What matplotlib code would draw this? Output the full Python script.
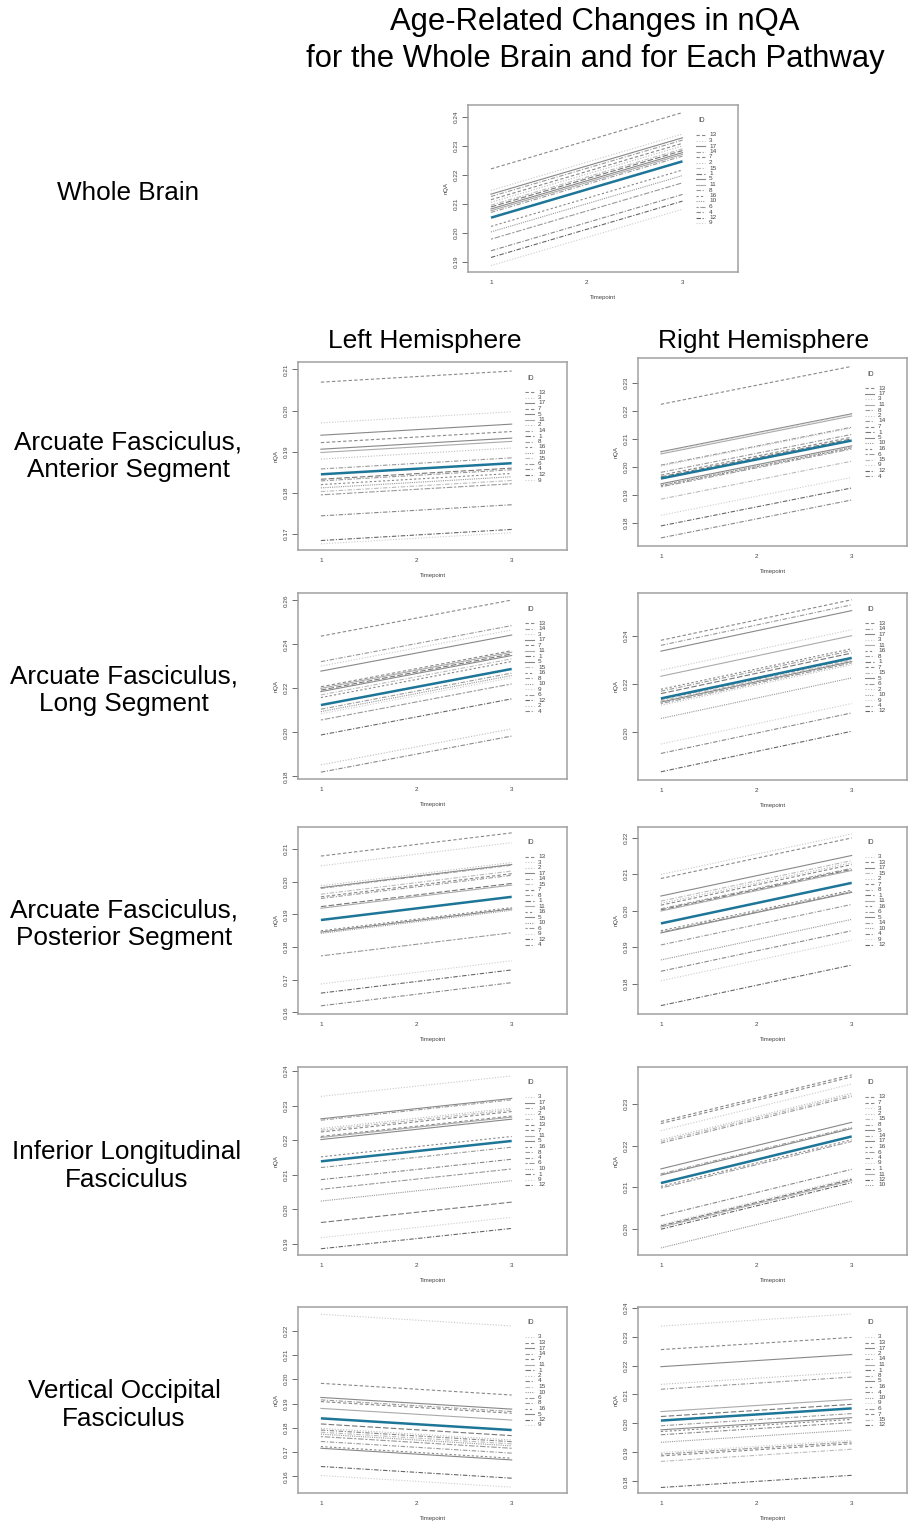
import matplotlib
matplotlib.use('Agg')
import matplotlib.pyplot as plt
from matplotlib.ticker import MultipleLocator

plt.rcParams['font.family'] = ['Liberation Sans', 'DejaVu Sans']

W, H = 908, 1531

timepoints = [1, 3]

# each panel: subject IDs in legend order (sorted by value at timepoint 3),
# fitted nQA at timepoint 1 and 3, and the group mean
wb_ids = [13, 3, 17, 14, 7, 2, 15, 1, 5, 11, 8, 16, 10, 6, 4, 12, 9]
wb_t1 = [0.2221, 0.2147, 0.2134, 0.2126, 0.2115, 0.2106, 0.2096, 0.2090, 0.2083, 0.2077, 0.2071, 0.2023, 0.2004, 0.1979, 0.1939, 0.1916, 0.1888]
wb_t3 = [0.2415, 0.2341, 0.2328, 0.2320, 0.2309, 0.2300, 0.2290, 0.2284, 0.2277, 0.2271, 0.2265, 0.2217, 0.2198, 0.2173, 0.2133, 0.2110, 0.2082]
wb_mean = [0.2053, 0.2247]

afa_l_ids = [13, 3, 17, 7, 5, 11, 2, 14, 1, 8, 16, 10, 15, 6, 4, 12, 9]
afa_l_t1 = [0.2069, 0.1970, 0.1940, 0.1922, 0.1906, 0.1898, 0.1882, 0.1858, 0.1833, 0.1829, 0.1820, 0.1812, 0.1803, 0.1795, 0.1744, 0.1684, 0.1676]
afa_l_t3 = [0.2096, 0.1997, 0.1967, 0.1949, 0.1933, 0.1925, 0.1909, 0.1885, 0.1860, 0.1856, 0.1847, 0.1839, 0.1830, 0.1822, 0.1771, 0.1711, 0.1703]
afa_l_mean = [0.1845, 0.1872]

afa_r_ids = [13, 17, 3, 11, 8, 2, 14, 7, 1, 5, 10, 16, 6, 15, 9, 12, 4]
afa_r_t1 = [0.2224, 0.2054, 0.2051, 0.2046, 0.2006, 0.2003, 0.1980, 0.1970, 0.1964, 0.1939, 0.1934, 0.1932, 0.1928, 0.1884, 0.1826, 0.1788, 0.1745]
afa_r_t3 = [0.2360, 0.2190, 0.2187, 0.2182, 0.2142, 0.2139, 0.2116, 0.2106, 0.2100, 0.2075, 0.2070, 0.2068, 0.2064, 0.2020, 0.1962, 0.1924, 0.1881]
afa_r_mean = [0.1958, 0.2094]

afl_l_ids = [13, 14, 3, 17, 7, 11, 1, 5, 15, 16, 8, 10, 9, 6, 12, 2, 4]
afl_l_t1 = [0.2437, 0.2321, 0.2301, 0.2278, 0.2207, 0.2200, 0.2192, 0.2185, 0.2170, 0.2158, 0.2105, 0.2094, 0.2084, 0.2056, 0.1988, 0.1852, 0.1819]
afl_l_t3 = [0.2601, 0.2485, 0.2465, 0.2442, 0.2371, 0.2364, 0.2356, 0.2349, 0.2334, 0.2322, 0.2269, 0.2258, 0.2248, 0.2220, 0.2152, 0.2016, 0.1983]
afl_l_mean = [0.2124, 0.2288]

afl_r_ids = [13, 14, 17, 3, 11, 16, 8, 1, 7, 15, 5, 6, 2, 10, 9, 4, 12]
afl_r_t1 = [0.2382, 0.2361, 0.2337, 0.2258, 0.2233, 0.2179, 0.2171, 0.2161, 0.2137, 0.2131, 0.2126, 0.2120, 0.2113, 0.2058, 0.1952, 0.1913, 0.1837]
afl_r_t3 = [0.2550, 0.2529, 0.2505, 0.2426, 0.2401, 0.2347, 0.2339, 0.2329, 0.2305, 0.2299, 0.2294, 0.2288, 0.2281, 0.2226, 0.2120, 0.2081, 0.2005]
afl_r_mean = [0.2141, 0.2309]

afp_l_ids = [13, 3, 2, 17, 14, 15, 7, 8, 1, 11, 16, 5, 10, 6, 9, 12, 4]
afp_l_t1 = [0.2079, 0.2049, 0.1988, 0.1982, 0.1980, 0.1962, 0.1954, 0.1949, 0.1924, 0.1919, 0.1850, 0.1846, 0.1842, 0.1773, 0.1687, 0.1659, 0.1620]
afp_l_t3 = [0.2150, 0.2120, 0.2059, 0.2053, 0.2051, 0.2033, 0.2025, 0.2020, 0.1995, 0.1990, 0.1921, 0.1917, 0.1913, 0.1844, 0.1758, 0.1730, 0.1691]
afp_l_mean = [0.1883, 0.1954]

afp_r_ids = [3, 13, 17, 15, 2, 7, 8, 1, 11, 16, 6, 5, 14, 10, 4, 9, 12]
afp_r_t1 = [0.2099, 0.2088, 0.2040, 0.2026, 0.2020, 0.2015, 0.2005, 0.2002, 0.1999, 0.1945, 0.1941, 0.1939, 0.1906, 0.1865, 0.1834, 0.1808, 0.1740]
afp_r_t3 = [0.2210, 0.2199, 0.2151, 0.2137, 0.2131, 0.2126, 0.2116, 0.2113, 0.2110, 0.2056, 0.2052, 0.2050, 0.2017, 0.1976, 0.1945, 0.1919, 0.1851]
afp_r_mean = [0.1965, 0.2076]

ilf_l_ids = [3, 17, 14, 2, 15, 13, 7, 11, 5, 16, 8, 4, 6, 10, 1, 9, 12]
ilf_l_t1 = [0.2327, 0.2262, 0.2258, 0.2234, 0.2229, 0.2224, 0.2211, 0.2208, 0.2202, 0.2152, 0.2121, 0.2086, 0.2058, 0.2024, 0.1962, 0.1918, 0.1886]
ilf_l_t3 = [0.2386, 0.2321, 0.2317, 0.2293, 0.2288, 0.2283, 0.2270, 0.2267, 0.2261, 0.2211, 0.2180, 0.2145, 0.2117, 0.2083, 0.2021, 0.1977, 0.1945]
ilf_l_mean = [0.2139, 0.2198]

ilf_r_ids = [13, 7, 3, 2, 15, 8, 5, 14, 17, 16, 6, 4, 9, 1, 11, 12, 10]
ilf_r_t1 = [0.2258, 0.2253, 0.2236, 0.2214, 0.2210, 0.2206, 0.2144, 0.2132, 0.2129, 0.2102, 0.2098, 0.2031, 0.2010, 0.2007, 0.2004, 0.1999, 0.1954]
ilf_r_t3 = [0.2370, 0.2365, 0.2348, 0.2326, 0.2322, 0.2318, 0.2256, 0.2244, 0.2241, 0.2214, 0.2210, 0.2143, 0.2122, 0.2119, 0.2116, 0.2111, 0.2066]
ilf_r_mean = [0.2110, 0.2222]

vof_l_ids = [3, 13, 17, 14, 7, 11, 1, 2, 4, 15, 10, 6, 8, 16, 5, 12, 9]
vof_l_t1 = [0.2267, 0.1983, 0.1925, 0.1915, 0.1908, 0.1880, 0.1816, 0.1798, 0.1791, 0.1782, 0.1774, 0.1764, 0.1744, 0.1723, 0.1716, 0.1641, 0.1604]
vof_l_t3 = [0.2219, 0.1935, 0.1877, 0.1867, 0.1860, 0.1832, 0.1768, 0.1750, 0.1743, 0.1734, 0.1726, 0.1716, 0.1696, 0.1675, 0.1668, 0.1593, 0.1556]
vof_l_mean = [0.1839, 0.1791]

vof_r_ids = [3, 13, 17, 2, 14, 11, 1, 8, 5, 16, 4, 10, 9, 6, 7, 15, 12]
vof_r_t1 = [0.2336, 0.2255, 0.2196, 0.2135, 0.2118, 0.2041, 0.2024, 0.1992, 0.1978, 0.1972, 0.1961, 0.1935, 0.1900, 0.1894, 0.1888, 0.1869, 0.1779]
vof_r_t3 = [0.2378, 0.2297, 0.2238, 0.2177, 0.2160, 0.2083, 0.2066, 0.2034, 0.2020, 0.2014, 0.2003, 0.1977, 0.1942, 0.1936, 0.1930, 0.1911, 0.1821]
vof_r_mean = [0.2010, 0.2052]

# line style per subject (grey shades, R-like lty)
id_color = {1: '#777777', 2: '#bbbbbb', 3: '#c8c8c8', 4: '#888888', 5: '#888888',
            6: '#999999', 7: '#888888', 8: '#999999', 9: '#cccccc', 10: '#999999',
            11: '#aaaaaa', 12: '#666666', 13: '#888888', 14: '#999999', 15: '#bbbbbb',
            16: '#888888', 17: '#888888'}
id_ls = {1: (0, (5, 2)), 2: (0, (1, 1.5)), 3: (0, (1, 1.5)), 4: (0, (4, 1.5, 1, 1.5)),
         5: '-', 6: (0, (2, 1.5, 5, 1.5)), 7: (0, (3, 2)), 8: (0, (4, 1.5, 1, 1.5)),
         9: (0, (1, 1.5)), 10: (0, (1, 1)), 11: '-', 12: (0, (4, 1.5, 1, 1.5)),
         13: (0, (3, 2)), 14: (0, (4, 1.5, 1, 1.5)), 15: (0, (4, 1.5, 1, 1.5)),
         16: (0, (2, 2)), 17: '-'}
mean_color = '#1d7598'


def panel(box, ids, t1, t3, mean, ylim, ystep):
    x0, y0, x1, y1 = box
    ax = fig.add_axes([x0 / W, 1 - y1 / H, (x1 - x0) / W, (y1 - y0) / H])
    for i, a, b in zip(ids, t1, t3):
        ax.plot(timepoints, [a, b], color=id_color[i], ls=id_ls[i], lw=0.8)
    ax.plot(timepoints, mean, color=mean_color, lw=1.8, solid_capstyle='butt')
    ax.set_xlim(0.76, 3.58)
    ax.set_ylim(*ylim)
    ax.set_xticks([1, 2, 3])
    ax.yaxis.set_major_locator(MultipleLocator(ystep))
    ax.yaxis.set_major_formatter(matplotlib.ticker.FormatStrFormatter('%.2f'))
    ax.tick_params(axis='y', labelrotation=90, length=4, width=0.6, color='#555555',
                   pad=2.5, labelsize=4.6, labelcolor='#444444')
    for t in ax.get_yticklabels():
        t.set_va('center')
    ax.tick_params(axis='x', length=0, pad=6, labelsize=4.6, labelcolor='#444444')
    ax.set_ylabel('nQA', fontsize=4.3, color='#444444', labelpad=4)
    ax.set_xlabel('Timepoint', fontsize=4.3, color='#444444', labelpad=7)
    for s in ax.spines.values():
        s.set_color('#a0a0a0')
        s.set_linewidth(1.1)

    # legend, drawn R style
    pw, ph = x1 - x0, y1 - y0
    ax.text(1 - 36 / pw, 1 - 16 / ph, 'ID', transform=ax.transAxes, fontsize=4.8,
            color='#444444', ha='center', va='center')
    for k, i in enumerate(ids):
        yy = 1 - (30 + 5.5 * k) / ph
        ax.plot([1 - 42 / pw, 1 - 33 / pw], [yy, yy], transform=ax.transAxes,
                color=id_color[i], ls=id_ls[i], lw=0.8, clip_on=False)
        ax.text(1 - 29 / pw, yy, str(i), transform=ax.transAxes, fontsize=4.6,
                color='#444444', ha='left', va='center')
    return ax


fig = plt.figure(figsize=(W / 100, H / 100), dpi=100)

fig.text(595 / W, 1 - 22 / H, 'Age-Related Changes in nQA', fontsize=22.3,
         ha='center', va='center')
fig.text(595 / W, 1 - 59 / H, 'for the Whole Brain and for Each Pathway', fontsize=22.3,
         ha='center', va='center')
fig.text(425 / W, 1 - 341 / H, 'Left Hemisphere', fontsize=19, ha='center', va='center')
fig.text(764 / W, 1 - 341 / H, 'Right Hemisphere', fontsize=19, ha='center', va='center')

row_labels = ['Whole Brain', 'Arcuate Fasciculus,\nAnterior Segment',
              'Arcuate Fasciculus,\nLong Segment', 'Arcuate Fasciculus,\nPosterior Segment',
              'Inferior Longitudinal\nFasciculus', 'Vertical Occipital\nFasciculus']
row_label_pos = [(128, 193), (128, 456), (124, 690), (124, 924), (127, 1166), (124, 1405)]
for txt, (px, py) in zip(row_labels, row_label_pos):
    fig.text(px / W, 1 - py / H, txt, fontsize=18.8, ha='center', va='center',
             linespacing=1.2)

panel((468, 105, 738, 272), wb_ids, wb_t1, wb_t3, wb_mean, (0.1866, 0.2441), 0.01)

panel((298, 362, 567, 550), afa_l_ids, afa_l_t1, afa_l_t3, afa_l_mean, (0.1661, 0.2118), 0.01)
panel((638, 358, 907, 546), afa_r_ids, afa_r_t1, afa_r_t3, afa_r_mean, (0.1716, 0.2390), 0.01)

panel((298, 593, 567, 779), afl_l_ids, afl_l_t1, afl_l_t3, afl_l_mean, (0.1788, 0.2633), 0.02)
panel((638, 593, 907, 780), afl_r_ids, afl_r_t1, afl_r_t3, afl_r_mean, (0.1803, 0.2578), 0.02)

panel((298, 827, 567, 1014), afp_l_ids, afp_l_t1, afp_l_t3, afp_l_mean, (0.1595, 0.2168), 0.01)
panel((638, 827, 907, 1014), afp_r_ids, afp_r_t1, afp_r_t3, afp_r_mean, (0.1717, 0.2229), 0.01)

panel((298, 1067, 567, 1255), ilf_l_ids, ilf_l_t1, ilf_l_t3, ilf_l_mean, (0.1868, 0.2412), 0.01)
panel((638, 1067, 907, 1255), ilf_r_ids, ilf_r_t1, ilf_r_t3, ilf_r_mean, (0.1937, 0.2389), 0.01)

panel((298, 1307, 567, 1493), vof_l_ids, vof_l_t1, vof_l_t3, vof_l_mean, (0.1532, 0.2297), 0.01)
panel((638, 1307, 907, 1493), vof_r_ids, vof_r_t1, vof_r_t3, vof_r_mean, (0.1760, 0.2402), 0.01)

fig.savefig('out.png', dpi=100)
